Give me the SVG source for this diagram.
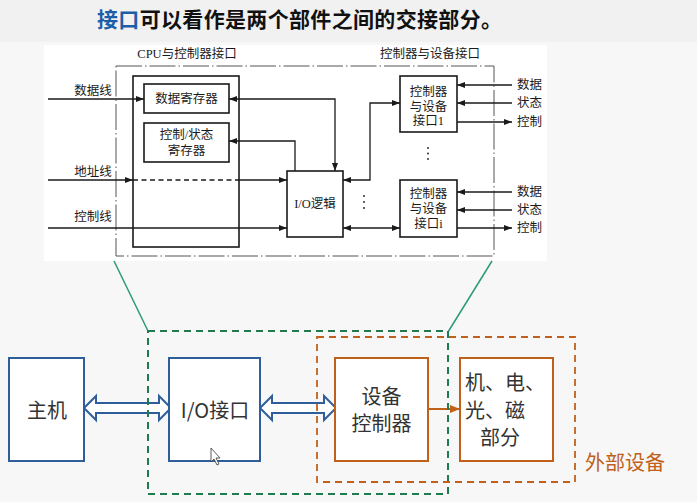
<svg xmlns="http://www.w3.org/2000/svg" width="697" height="502" viewBox="0 0 697 502">
<defs>
<marker id="ah" markerUnits="userSpaceOnUse" markerWidth="9" markerHeight="7" refX="8" refY="3" orient="auto-start-reverse"><path d="M0,0 L8,3 L0,6 z" fill="#1a1a1a"/></marker>
<marker id="aho" markerUnits="userSpaceOnUse" markerWidth="11" markerHeight="9" refX="10" refY="4" orient="auto"><path d="M0,0 L10,4 L0,8 z" fill="#c0601a"/></marker>
<style>
.fig{font-family:"Liberation Serif","Noto Sans CJK SC",serif;font-size:12.5px;fill:#1a1a1a}
.mid{text-anchor:middle}
.ln{fill:none;stroke:#1a1a1a;stroke-width:1.3}
.bx{fill:none;stroke:#1a1a1a;stroke-width:1.6}
.big{font-family:"Noto Sans CJK SC","Liberation Sans",sans-serif;font-size:20px;fill:#333;text-anchor:middle}
.bl{fill:#fff;stroke:#2f5f9a;stroke-width:2}
.or{fill:#fff;stroke:#c0601a;stroke-width:2}
</style>
</defs>
<rect width="697" height="502" fill="#f7f7f7"/>
<rect width="697" height="42" fill="#f1f1f1"/>
<text x="97" y="27" font-family="Noto Sans CJK SC,sans-serif" font-size="21" font-weight="700" fill="#111" textLength="405" lengthAdjust="spacing"><tspan fill="#1a5fa8">接口</tspan>可以看作是两个部件之间的交接部分。</text>
<rect x="44" y="45" width="503" height="216" fill="#ffffff"/>

<g id="frame">
<rect x="116" y="66" width="378" height="190" fill="none" stroke="#555" stroke-width="1" stroke-dasharray="26,3,1.5,3"/>
<text class="fig mid" x="187" y="58">CPU与控制器接口</text>
<text class="fig mid" x="430" y="58">控制器与设备接口</text>
</g>

<g id="cpu-if"><rect class="bx" x="133" y="76" width="106" height="171"/></g>
<g id="data-reg"><rect class="bx" x="144" y="84" width="85" height="29"/><text class="fig mid" x="186.5" y="103">数据寄存器</text></g>
<g id="ctrl-reg"><rect class="bx" x="144" y="123" width="85" height="39"/><text class="fig mid" x="186.5" y="139">控制/状态</text><text class="fig mid" x="186.5" y="155">寄存器</text></g>
<g id="io-logic"><rect class="bx" x="287" y="171" width="56" height="66"/><text class="fig mid" x="315" y="208">I/O逻辑</text></g>
<g id="dev-if-1"><rect class="bx" x="400" y="76" width="57" height="56"/><text class="fig mid" x="428.5" y="96">控制器</text><text class="fig mid" x="428.5" y="111">与设备</text><text class="fig mid" x="428.5" y="125">接口1</text></g>
<g id="dev-if-i"><rect class="bx" x="400" y="180" width="57" height="57"/><text class="fig mid" x="428.5" y="198">控制器</text><text class="fig mid" x="428.5" y="213">与设备</text><text class="fig mid" x="428.5" y="228">接口i</text></g>

<g id="labels">
<text class="fig mid" x="93" y="95">数据线</text>
<text class="fig mid" x="93" y="176">地址线</text>
<text class="fig mid" x="93" y="221">控制线</text>
<text class="fig" x="517" y="89">数据</text>
<text class="fig" x="517" y="107">状态</text>
<text class="fig" x="517" y="126">控制</text>
<text class="fig" x="517" y="196">数据</text>
<text class="fig" x="517" y="214">状态</text>
<text class="fig" x="517" y="232">控制</text>
<g fill="#1a1a1a"><circle cx="428" cy="148" r="0.9"/><circle cx="428" cy="153.5" r="0.9"/><circle cx="428" cy="159" r="0.9"/><circle cx="364" cy="196" r="0.9"/><circle cx="364" cy="202" r="0.9"/><circle cx="364" cy="208" r="0.9"/></g>
</g>

<g id="connectors">
<path class="ln" d="M48,99 H144" marker-end="url(#ah)"/>
<path class="ln" d="M48,180 H133" marker-end="url(#ah)"/>
<path class="ln" d="M133,180 H239" stroke-dasharray="5,3.5"/>
<path class="ln" d="M239,180 H287" marker-end="url(#ah)"/>
<path class="ln" d="M48,228 H287" marker-end="url(#ah)"/>
<path class="ln" d="M229,99 H335 V171" marker-start="url(#ah)" marker-end="url(#ah)"/>
<path class="ln" d="M295,171 V141 H229" marker-end="url(#ah)"/>
<path class="ln" d="M343,180 H370 V103 H400" marker-start="url(#ah)" marker-end="url(#ah)"/>
<path class="ln" d="M343,228 H400" marker-start="url(#ah)" marker-end="url(#ah)"/>
<path class="ln" d="M512,85 H457" marker-end="url(#ah)"/>
<path class="ln" d="M512,103 H457" marker-end="url(#ah)"/>
<path class="ln" d="M457,122 H512" marker-end="url(#ah)"/>
<path class="ln" d="M512,192 H457" marker-end="url(#ah)"/>
<path class="ln" d="M512,210 H457" marker-end="url(#ah)"/>
<path class="ln" d="M457,228 H512" marker-end="url(#ah)"/>
<path d="M114,261 L148,331 M492,261 L448,332" stroke="#2a9a7a" stroke-width="1.5" fill="none"/>
<polygon class="bl" points="84,408 96,396 96,403 159,403 159,396 171,408 159,420 159,413 96,413 96,420"/>
<polygon class="bl" points="260,408 272,396 272,403 324,403 324,396 336,408 324,420 324,413 272,413 272,420"/>
<path d="M428,409 H460" stroke="#c0601a" stroke-width="2" fill="none" marker-end="url(#aho)"/>
</g>

<g id="host"><rect class="bl" x="9" y="358" width="75" height="103"/><text class="big" x="47" y="418" font-size="21">主机</text></g>
<g id="io-interface"><rect class="bl" x="169" y="358" width="91" height="103"/><text class="big" x="215" y="418">I/O接口</text></g>
<g id="dev-controller"><rect class="or" x="335" y="358" width="93" height="103"/><text class="big" x="381.5" y="404">设备</text><text class="big" x="381.5" y="431">控制器</text></g>
<g id="device"><rect class="or" x="460" y="358" width="93" height="103"/><text class="big" x="465" y="390" style="text-anchor:start" font-size="19">机、电、</text><text class="big" x="465" y="418" style="text-anchor:start" font-size="19">光、磁</text><text class="big" x="500" y="445" font-size="19">部分</text></g>

<g id="groups">
<rect x="148" y="331" width="300" height="163" fill="none" stroke="#1e7b4e" stroke-width="2" stroke-dasharray="7,5"/>
<rect x="317" y="337" width="258" height="145" fill="none" stroke="#c0601a" stroke-width="1.8" stroke-dasharray="7,5"/>
<text x="585" y="470" font-family="Noto Sans CJK SC,sans-serif" font-size="20" fill="#c0601a">外部设备</text>
</g>
<polygon points="211,448 211,462 214,459 217,465 219,464 216,458 220,458" fill="#fff" stroke="#333" stroke-width="0.8"/>
</svg>
